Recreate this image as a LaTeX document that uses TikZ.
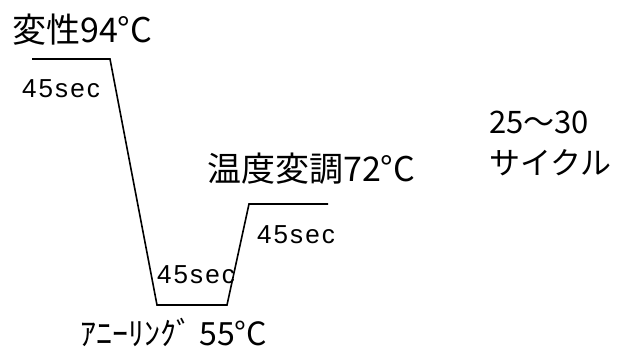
\documentclass[tikz,border=0pt]{standalone}
\usepackage{fontspec}
\setmainfont{Noto Sans CJK JP}
\newfontfamily\secfont[LetterSpace=8]{Liberation Sans}
\begin{document}
\begin{tikzpicture}[x=1pt,y=-1pt,
  lbl/.style={anchor=base west,inner sep=0pt,font=\fontsize{34}{40}\selectfont},
  dur/.style={anchor=base west,inner sep=0pt,font=\secfont\fontsize{26}{30}\selectfont},
  cyc/.style={anchor=base west,inner sep=0pt,font=\fontsize{31}{36}\selectfont},
  prof/.style={line width=1.6pt,line join=miter}]
\useasboundingbox (0,0) rectangle (635,354);
\coordinate (p1) at (32,59);
\coordinate (p2) at (110,59);
\coordinate (p3) at (157,305);
\coordinate (p4) at (227,305);
\coordinate (p5) at (249,204);
\coordinate (p6) at (328,204);
\draw[prof] (p1) -- (p2) -- (p3) -- (p4) -- (p5) -- (p6);
\node[lbl] (den) at (12,42) {変性94°C};
\node[lbl] (ext) at (207,181) {温度変調72°C};
\node[lbl,font=\fontsize{32}{38}\selectfont] (ann) at (80,345) {ｱﾆｰﾘﾝｸﾞ 55°C};
\node[dur] (t1) at (22,97) {45sec};
\node[dur] (t2) at (257,243) {45sec};
\node[dur] (t3) at (157,283) {45sec};
\node[cyc] (c1) at (489,133) {25～30};
\node[cyc] (c2) at (489,174) {サイクル};
\end{tikzpicture}
\end{document}
